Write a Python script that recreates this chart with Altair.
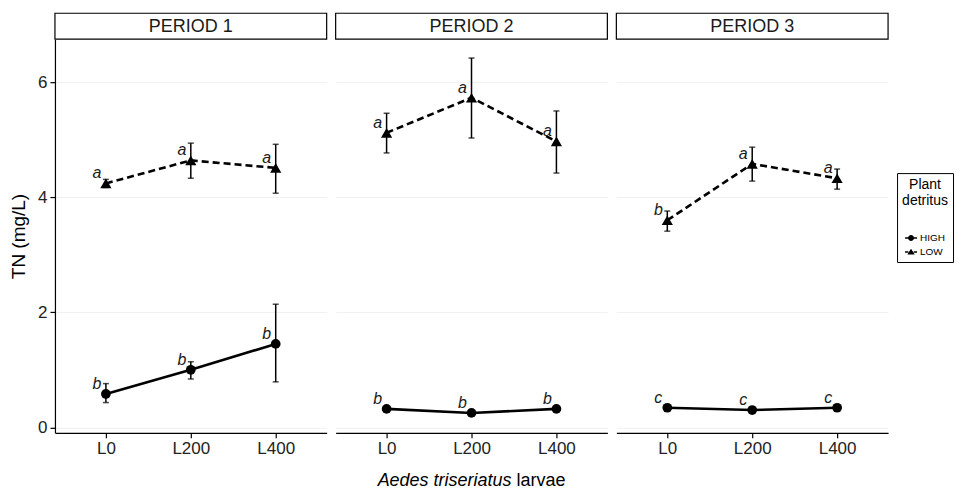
import altair as alt
import pandas as pd

FONT = "Liberation Sans"

periods = ["PERIOD 1", "PERIOD 2", "PERIOD 3"]
larvae = ["L0", "L200", "L400"]
detritus = ["HIGH", "LOW"]

# HIGH detritus: mean, lower and upper error
high_mean = [[0.58, 1.00, 1.45], [0.32, 0.25, 0.32], [0.34, 0.30, 0.34]]
high_lo = [[0.43, 0.84, 0.79], [0.29, 0.22, 0.29], [0.31, 0.27, 0.31]]
high_hi = [[0.76, 1.14, 2.14], [0.35, 0.28, 0.35], [0.37, 0.33, 0.37]]
high_letters = [["b", "b", "b"], ["b", "b", "b"], ["c", "c", "c"]]

# LOW detritus
low_mean = [[4.24, 4.64, 4.51], [5.12, 5.73, 4.97], [3.60, 4.58, 4.33]]
low_lo = [[4.17, 4.33, 4.07], [4.77, 5.03, 4.42], [3.41, 4.28, 4.14]]
low_hi = [[4.31, 4.94, 4.92], [5.46, 6.42, 5.50], [3.76, 4.87, 4.49]]
low_letters = [["a", "a", "a"], ["a", "a", "a"], ["b", "a", "a"]]

y_ticks = [0, 2, 4, 6]

rows = []
for pi, p in enumerate(periods):
    for li, l in enumerate(larvae):
        rows.append(dict(period=p, larvae=l, detritus="HIGH", mean=high_mean[pi][li],
                         lo=high_lo[pi][li], hi=high_hi[pi][li], letter=high_letters[pi][li]))
        rows.append(dict(period=p, larvae=l, detritus="LOW", mean=low_mean[pi][li],
                         lo=low_lo[pi][li], hi=low_hi[pi][li], letter=low_letters[pi][li]))
df = pd.DataFrame(rows)

W = 272
H = 420
STRIP = 26

yscale = alt.Scale(domain=[-0.0955, 6.747], range=[H, STRIP], nice=False, zero=False)
xscale = alt.Scale(type="point", domain=larvae, padding=0.6)
xaxis = alt.Axis(title=None, labelFontSize=17, labelColor="#222222", tickColor="black",
                 tickSize=5, labelPadding=3, domainColor="black", domainWidth=1.2,
                 tickWidth=1.2, grid=False, labelFont=FONT, labelAngle=0)

# legend glyphs: short line with the point marker on it (filled outlines only)
path_high = ("M-1,-0.12L-0.45,-0.12L-0.45,0.12L-1,0.12Z"
             "M0.45,-0.12L1,-0.12L1,0.12L0.45,0.12Z"
             "M-0.5,0A0.5,0.5 0 1,1 0.5,0A0.5,0.5 0 1,1 -0.5,0Z")
path_low = ("M-1,-0.12L-0.45,-0.12L-0.45,0.12L-1,0.12Z"
            "M0.45,-0.12L1,-0.12L1,0.12L0.45,0.12Z"
            "M-0.62,0.42L0,-0.55L0.62,0.42Z")


def panel(i):
    p = periods[i]
    d = df[df.period == p]
    if i == 0:
        yaxis = alt.Axis(values=y_ticks, format="d", title="TN (mg/L)", titleFontSize=19,
                         titleFontWeight="normal", titleColor="black", titlePadding=9,
                         labelFontSize=17, labelColor="#222222", tickColor="black",
                         tickSize=5, tickWidth=1.2, labelPadding=3, domainColor="black",
                         domainWidth=1.2, grid=True, gridColor="#f0f0f0", gridWidth=1,
                         labelFont=FONT, titleFont=FONT)
    else:
        yaxis = alt.Axis(values=y_ticks, title=None, labels=False, ticks=False,
                         domain=False, grid=True, gridColor="#f0f0f0", gridWidth=1)

    strip_df = pd.DataFrame({"period": [p]})
    strip_rect = alt.Chart(strip_df).mark_rect(fill="white", stroke="black", strokeWidth=1.2).encode(
        x=alt.value(0), x2=alt.value(W), y=alt.value(0), y2=alt.value(STRIP))
    strip_text = alt.Chart(strip_df).mark_text(fontSize=18, font=FONT, color="#1a1a1a").encode(
        x=alt.value(W / 2), y=alt.value(STRIP / 2 + 1), text="period:N")

    base = alt.Chart(d).encode(x=alt.X("larvae:N", scale=xscale, axis=xaxis, sort=larvae))
    high = base.transform_filter(alt.datum.detritus == "HIGH")
    low = base.transform_filter(alt.datum.detritus == "LOW")

    rule = base.mark_rule(strokeWidth=1.5, color="black").encode(
        y=alt.Y("lo:Q", scale=yscale, axis=yaxis), y2="hi:Q")
    cap_lo = base.mark_tick(size=6, thickness=1.5, color="black").encode(y=alt.Y("lo:Q", scale=yscale))
    cap_hi = base.mark_tick(size=6, thickness=1.5, color="black").encode(y=alt.Y("hi:Q", scale=yscale))
    line_high = high.mark_line(strokeWidth=2.6, color="black").encode(y=alt.Y("mean:Q", scale=yscale))
    line_low = low.mark_line(strokeWidth=2.6, color="black", strokeDash=[7, 4]).encode(
        y=alt.Y("mean:Q", scale=yscale))
    pts_high = high.mark_point(shape="circle", filled=True, size=95, color="black", opacity=1).encode(
        y=alt.Y("mean:Q", scale=yscale))
    pts_low = low.mark_point(shape="triangle-up", filled=True, size=125, color="black", opacity=1).encode(
        y=alt.Y("mean:Q", scale=yscale))
    letters = base.mark_text(fontSize=16, fontStyle="italic", font=FONT, color="#1a1a1a",
                             dx=-9, dy=-10).encode(y=alt.Y("mean:Q", scale=yscale), text="letter:N")

    layers = [strip_rect, strip_text, rule, cap_lo, cap_hi, line_high, line_low, pts_high, pts_low, letters]

    if i == 1:
        title_df = pd.DataFrame({"t1": ["Aedes triseriatus"], "t2": ["larvae"]})
        t1 = alt.Chart(title_df).mark_text(fontSize=18, fontStyle="italic", font=FONT, color="black",
                                           align="right", baseline="alphabetic").encode(
            x=alt.value(176), y=alt.value(473), text="t1:N")
        t2 = alt.Chart(title_df).mark_text(fontSize=18, font=FONT, color="black",
                                           align="left", baseline="alphabetic").encode(
            x=alt.value(181), y=alt.value(473), text="t2:N")
        layers += [t1, t2]

    if i == 2:
        leg = base.mark_point(filled=True, opacity=0.001, size=144, color="black").encode(
            y=alt.Y("mean:Q", scale=yscale),
            shape=alt.Shape("detritus:N", scale=alt.Scale(domain=detritus, range=[path_high, path_low]),
                            legend=alt.Legend(orient="none", legendX=843, legendY=160,
                                              title=["Plant", "detritus"], titleFontSize=14,
                                              titleFontWeight="normal", titleColor="black",
                                              titleAlign="center", titleAnchor="middle",
                                              titleFont=FONT, labelFont=FONT,
                                              labelFontSize=10, labelColor="black",
                                              symbolSize=144, symbolOpacity=1,
                                              symbolFillColor="black", symbolStrokeWidth=0,
                                              strokeColor="black", fillColor="white",
                                              padding=5, rowPadding=3,
                                              titlePadding=24, labelOffset=3)))
        layers.append(leg)

    return alt.layer(*layers).properties(width=W, height=H)


chart = alt.hconcat(panel(0), panel(1), panel(2), spacing=7).properties(
    padding={"left": 1, "top": 4, "right": 0, "bottom": 0}
).configure(font=FONT).configure_view(strokeWidth=0, stroke="transparent")

chart.save("out.html", embed_options={"renderer": "svg", "actions": False})
